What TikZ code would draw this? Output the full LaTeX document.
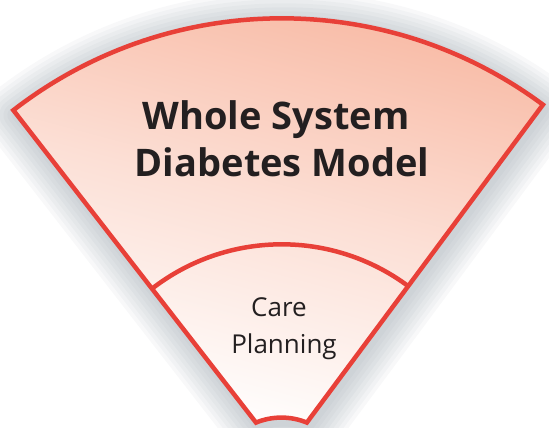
\documentclass[tikz,border=0pt]{standalone}
\usepackage{fontspec}
\setmainfont{Open Sans}
\definecolor{fanred}{RGB}{232,64,56}
\definecolor{fanpink}{RGB}{248,184,162}
\definecolor{fanshadow}{RGB}{110,125,138}
\definecolor{fantext}{RGB}{35,31,32}
% outline of the fan, drawn round its centre
\newcommand{\fanoutline}{(127.8:438) arc[start angle=127.8, end angle=53.4, radius=438]
  -- (53.4:42) arc[start angle=67.7, end angle=112.3, radius=67] -- cycle}
\tikzset{
  fanline/.style={fanred, line width=4.5pt},
  titletext/.style={anchor=base, text=fantext, font=\bfseries\fontsize{38}{40}\selectfont},
  ringtext/.style={anchor=base, text=fantext, font=\fontsize{26}{28}\selectfont}
}
\begin{document}
\begin{tikzpicture}[x=1pt, y=1pt]
\useasboundingbox (0,0) rectangle (549,428);
\begin{scope}[shift={(281.8,-28.3)}]
% soft shadow
\begin{scope}[shift={(2,-5)}]
\foreach \w in {64,56,...,8}
  \draw[fanshadow, opacity=.05, line width=\w pt, line join=round] \fanoutline;
\end{scope}
% fan body
\shade[top color=fanpink, bottom color=white, middle color=fanpink!45, shading angle=-15] \fanoutline;
\draw[fanline, line join=miter] \fanoutline;
% inner ring
\draw[fanline] (127.8:212) arc[start angle=127.8, end angle=53.4, radius=212];
\end{scope}

% labels
\node[titletext] (whole) at (276,298.5) {Whole System};
\node[titletext] (model) at (282,251) {Diabetes Model};
\node[ringtext] (care) at (279,111) {Care};
\node[ringtext] (plan) at (284,74) {Planning};
\end{tikzpicture}
\end{document}
